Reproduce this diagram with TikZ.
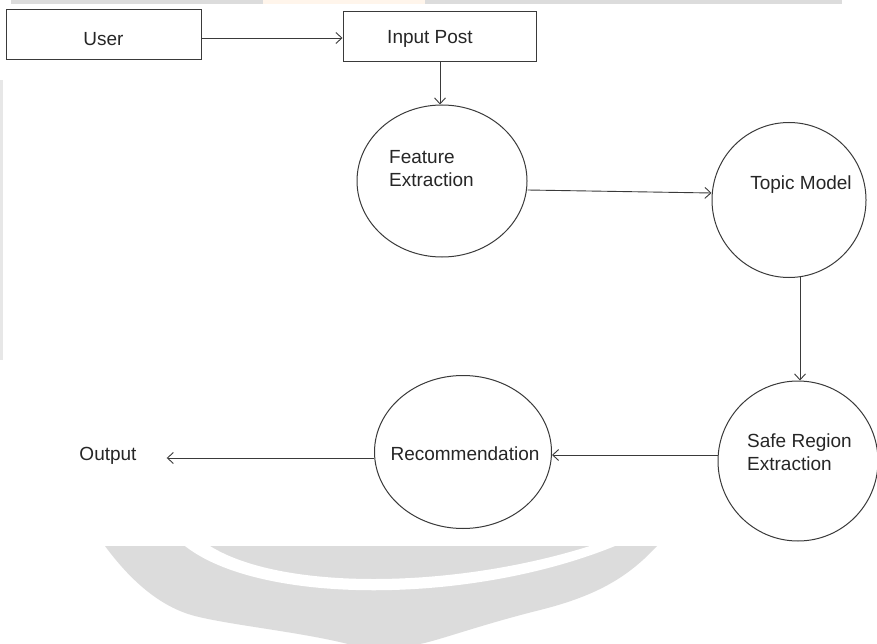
\documentclass[tikz,border=0pt]{standalone}
\usepackage{fontspec}
\setmainfont{Liberation Sans}
\usetikzlibrary{arrows.meta,shapes.geometric}
\definecolor{wm}{HTML}{DCDCDC}
\definecolor{ln}{HTML}{3A3A3A}
\tikzset{
  boxnode/.style={draw=ln,line width=1pt,minimum width=195pt,minimum height=50pt,inner sep=0pt,font=\fontsize{19}{23}\selectfont},
  ellnode/.style={draw=ln,line width=1pt,ellipse,inner sep=0pt},
  lbl/.style={font=\fontsize{19}{23}\selectfont,text=black!85,inner sep=0pt,align=left},
  conn/.style={draw=ln,line width=0.9pt,-{Straight Barb[length=6pt,width=11pt]}}
}
\begin{document}
\begin{tikzpicture}[x=1pt,y=-1pt]
\useasboundingbox (0,0) rectangle (877,644);
\fill[white] (0,0) rectangle (877,644);
% faint watermark remnants
\fill[wm] (11,0) rectangle (842,4);
\fill[orange!8] (263,0) rectangle (425,4);
\fill[wm!70] (0,80) rectangle (3,360);
\fill[wm] (105,546) -- (657,546)
  .. controls (630,575) and (600,595) .. (540,610)
  .. controls (480,625) and (440,640) .. (420,644)
  -- (348,644)
  .. controls (300,632) and (230,625) .. (195,616)
  .. controls (160,607) and (130,580) .. (105,546) -- cycle;
\fill[white] (185,546) .. controls (260,605) and (470,605) .. (615,546)
  -- (590,546) .. controls (450,590) and (280,590) .. (210,546) -- cycle;

% nodes
\node[boxnode] (user) at (103.5,35) {};
\node[lbl] (usert) at (103.5,39) {User};
\node[boxnode,minimum width=193pt] (post) at (439.5,37) {};
\node[lbl] (postt) at (430,39) {Input Post};
\node[ellnode,minimum width=170pt,minimum height=152pt] (fe) at (442,181) {};
\node[lbl,anchor=west] (fet) at (389,169) {Feature\\Extraction};
\node[ellnode,minimum width=154pt,minimum height=155pt] (tm) at (789,200) {};
\node[lbl] (tmt) at (801,185) {Topic Model};
\node[ellnode,minimum width=160pt,minimum height=160pt] (sr) at (798,461) {};
\node[lbl,anchor=west] (srt) at (747,452) {Safe Region\\Extraction};
\node[ellnode,minimum width=177pt,minimum height=153pt] (rec) at (463,452) {};
\node[lbl] (rect) at (465,454) {Recommendation};
\node[lbl] (out) at (108,456) {Output};

% connectors
\draw[conn] ([shift={(0,3)}]user.east) -- ([shift={(0,1)}]post.west);
\draw[conn] ([shift={(0.5,0)}]post.south) -- ([shift={(-2,0)}]fe.north);
\draw[conn] ([shift={(0,9)}]fe.east) -- ([shift={(0,-7)}]tm.west);
\draw[conn] ([shift={(11,-1)}]tm.south) -- ([shift={(2,0)}]sr.north);
\draw[conn] ([shift={(0,-6)}]sr.west) -- ([shift={(0,3)}]rec.east);
\draw[conn] ([shift={(0,6)}]rec.west) -- ([shift={(30,2)}]out.east);
\end{tikzpicture}
\end{document}
